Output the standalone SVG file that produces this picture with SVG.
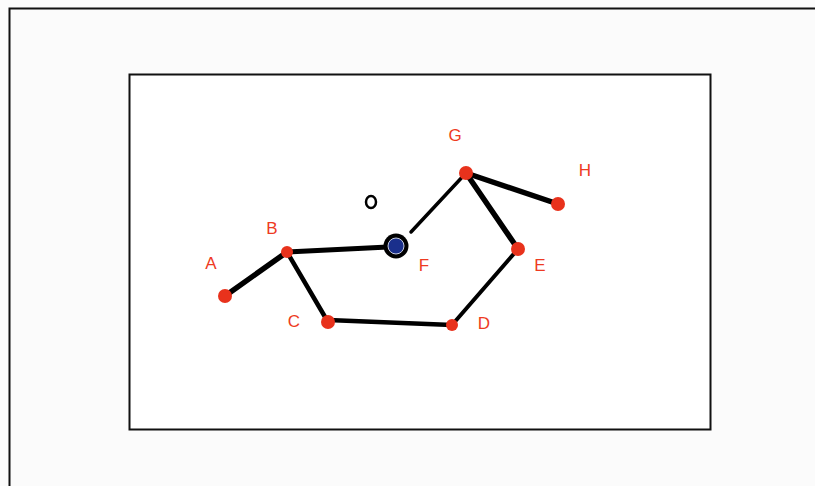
<svg xmlns="http://www.w3.org/2000/svg" width="815" height="486" viewBox="0 0 815 486">
<style>
.lbl{font-family:"Liberation Sans",Arial,sans-serif;font-size:17px;fill:#ee3a22;text-anchor:middle}
.pt{fill:#e8321c}
.e{stroke:#000;stroke-linecap:round;fill:none}
</style>
<rect x="0" y="0" width="815" height="486" fill="#fbfbfb"/>
<path d="M9.5 486 V8.5 H815" fill="none" stroke="#111" stroke-width="2"/>
<rect x="129.5" y="74.5" width="581" height="355" fill="#fff" stroke="#111" stroke-width="2"/>
<g id="connectors">
<line class="e" x1="225" y1="296" x2="287" y2="252" stroke-width="5.5"/>
<line class="e" x1="287" y1="252" x2="388" y2="247" stroke-width="5"/>
<line class="e" x1="287" y1="252" x2="328" y2="322" stroke-width="4.5"/>
<line class="e" x1="328" y1="320" x2="452" y2="325" stroke-width="4.5"/>
<line class="e" x1="452" y1="325" x2="518" y2="249" stroke-width="4"/>
<line class="e" x1="518" y1="249" x2="466" y2="173" stroke-width="5.5"/>
<line class="e" x1="466" y1="173" x2="558" y2="204" stroke-width="5.5"/>
<line class="e" x1="411" y1="232" x2="466" y2="173" stroke-width="3.5"/>
</g>
<g id="nodeA"><circle class="pt" cx="225" cy="296" r="7"/><text class="lbl" x="211" y="269">A</text></g>
<g id="nodeB"><circle class="pt" cx="287" cy="252" r="6"/><text class="lbl" x="272" y="234">B</text></g>
<g id="nodeC"><circle class="pt" cx="328" cy="322" r="7"/><text class="lbl" x="294" y="327">C</text></g>
<g id="nodeD"><circle class="pt" cx="452" cy="325" r="6"/><text class="lbl" x="484" y="329">D</text></g>
<g id="nodeE"><circle class="pt" cx="518" cy="249" r="7"/><text class="lbl" x="540" y="271">E</text></g>
<g id="nodeF"><circle cx="396" cy="246" r="12.5" fill="#000"/><circle cx="396" cy="246" r="8" fill="#1a2f8c" stroke="#c8cde0" stroke-width="1"/><text class="lbl" x="424" y="271">F</text></g>
<g id="nodeG"><circle class="pt" cx="466" cy="173" r="7"/><text class="lbl" x="455" y="141">G</text></g>
<g id="nodeH"><circle class="pt" cx="558" cy="204" r="7"/><text class="lbl" x="585" y="176">H</text></g>
<g id="marker"><ellipse cx="371" cy="202" rx="5" ry="6" fill="none" stroke="#000" stroke-width="2.5"/></g>
</svg>
